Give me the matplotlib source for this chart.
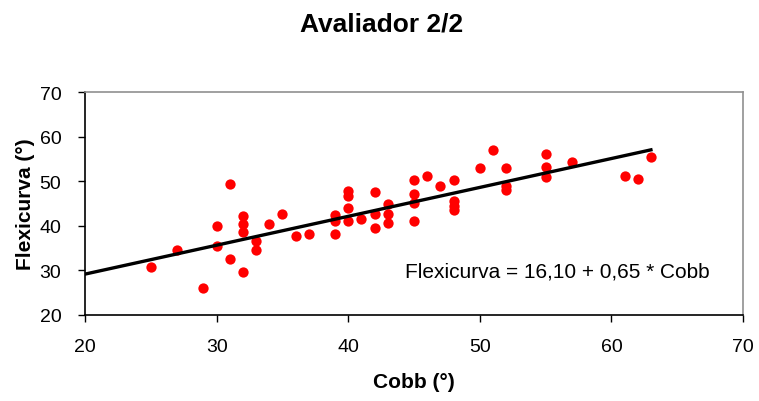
import numpy as np
import matplotlib.pyplot as plt

plt.rcParams['font.family'] = ['Liberation Sans', 'DejaVu Sans']

# values
cobb = [25, 27, 29, 30, 30, 31, 31, 32, 32, 32, 32, 33, 33, 34, 35, 36, 37,
        39, 39, 39, 40, 40, 40, 40, 41, 42, 42, 42, 43, 43, 43,
        45, 45, 45, 45, 46, 47, 48, 48, 48, 48, 50, 51, 52, 52, 52,
        55, 55, 55, 57, 61, 62, 63]
flexicurva = [30.8, 34.6, 25.9, 39.9, 35.5, 49.3, 32.6, 42.2, 40.3, 38.5, 29.5, 36.5, 34.5, 40.4, 42.6, 37.7, 38.1,
              42.5, 41.0, 38.1, 47.9, 46.7, 44.0, 41.1, 41.6, 47.5, 42.6, 39.5, 44.9, 42.6, 40.7,
              50.3, 47.1, 45.2, 41.1, 51.1, 49.0, 50.3, 45.6, 44.5, 43.6, 53.0, 57.0, 53.0, 49.0, 48.0,
              56.1, 53.1, 51.0, 54.4, 51.1, 50.6, 55.4]
intercept = 16.10
slope = 0.65
x_ticks = [20, 30, 40, 50, 60, 70]
y_ticks = [20, 30, 40, 50, 60, 70]

fig = plt.figure(figsize=(7.59, 4.02), dpi=100)
ax = fig.add_axes([0.112, 0.215, 0.867, 0.553])

ax.scatter(cobb, flexicurva, s=55, color='red', zorder=3, linewidths=0)
xl = np.array([20, 63])
ax.plot(xl, intercept + slope * xl, color='black', lw=2.4, zorder=4)

ax.set_xlim(20, 70)
ax.set_ylim(20, 70)
ax.set_xticks(x_ticks)
ax.set_yticks(y_ticks)
ax.tick_params(axis='both', labelsize=14, length=5, width=1, color='black')
ax.tick_params(axis='x', pad=12)
ax.tick_params(axis='y', pad=12)

for s in ['left', 'bottom']:
    ax.spines[s].set_color('black')
    ax.spines[s].set_linewidth(1.2)
for s in ['top', 'right']:
    ax.spines[s].set_color('#909090')
    ax.spines[s].set_linewidth(1.2)

ax.set_xlabel('Cobb (°)', fontsize=15, fontweight='bold', labelpad=12)
ax.set_ylabel('Flexicurva (°)', fontsize=15, fontweight='bold', labelpad=3)

ax.text(44.3, 29.8, 'Flexicurva = 16,10 + 0,65 * Cobb', fontsize=15, va='center', ha='left')

fig.text(0.503, 0.94, 'Avaliador 2/2', fontsize=19, fontweight='bold', ha='center', va='center')

fig.savefig('out.png', dpi=100)
